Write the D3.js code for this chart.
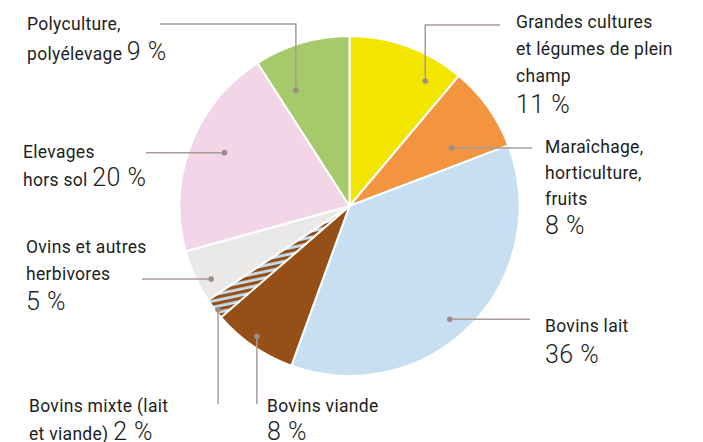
<!DOCTYPE html>
<html>
<head>
<meta charset="utf-8">
<script src="https://cdn.jsdelivr.net/npm/d3@7"></script>
<style>
  body { margin: 0; background: #fff; }
  svg { display: block; }
  .lbl { font-family: Roboto, "Open Sans", sans-serif; fill: #1d1d1b; }
  .num { font-weight: 300; }
</style>
</head>
<body>
<div id="chart"></div>
<script>
// Data
const categories = [
  "Grandes cultures et légumes de plein champ",
  "Maraîchage, horticulture, fruits",
  "Bovins lait",
  "Bovins viande",
  "Bovins mixte (lait et viande)",
  "Ovins et autres herbivores",
  "Elevages hors sol",
  "Polyculture, polyélevage"
];
const values = [11, 8, 36, 8, 2, 5, 20, 9];
const colors = ["#f2e500", "#f39440", "#c8dff2", "#964f16", "url(#hatch)", "#ebe8e8", "#f2d6e8", "#a6ca69"];

// label text lines (last line carries the value)
const labelLines = [
  ["Grandes cultures", "et légumes de plein", "champ", ""],
  ["Maraîchage,", "horticulture,", "fruits", ""],
  ["Bovins lait", ""],
  ["Bovins viande", ""],
  ["Bovins mixte (lait", "et viande) "],
  ["Ovins et autres", "herbivores", ""],
  ["Elevages", "hors sol "],
  ["Polyculture,", "polyélevage "]
];

// Layout of the callouts: where the dot sits in the slice (t = share of the angle, r = share of the radius),
// leader route and text anchor
const callouts = [
  {t: 0.78, r: 0.86, route: [["v", 25], ["h", 500]], x: 516, y: 28, dy: 27, numGap: 31},
  {t: 0.70, r: 0.69, route: [["h", 532]], x: 545, y: 153, dy: 26, numGap: 29},
  {t: 0.53, r: 0.89, route: [["h", 530]], x: 545, y: 332, dy: 31, numGap: 31},
  {t: 0.53, r: 0.94, route: [["v", 404]], x: 267, y: 412, dy: 28, numGap: 28},
  {t: 0.36, r: 0.985, route: [["v", 404]], x: 29, y: 412, dy: 28, numGap: 28},
  {t: 0.32, r: 0.92, route: [["h", 142]], x: 26, y: 253, dy: 27, numGap: 30},
  {t: 0.53, r: 0.80, route: [["h", 146]], x: 23, y: 158, dy: 28, numGap: 28},
  {t: 0.24, r: 0.75, route: [["v", 24], ["h", 160]], x: 27, y: 30, dy: 30, numGap: 30}
];

const width = 703, height = 442;
const cx = 349.5, cy = 206, radius = 170;

const svg = d3.select("#chart").append("svg")
  .attr("width", width)
  .attr("height", height);

// hatch for the mixed slice
const defs = svg.append("defs");
const pat = defs.append("pattern")
  .attr("id", "hatch")
  .attr("patternUnits", "userSpaceOnUse")
  .attr("width", 8).attr("height", 6)
  .attr("patternTransform", "rotate(-12)");
pat.append("rect").attr("width", 8).attr("height", 6).attr("fill", "#c8dff2");
pat.append("rect").attr("width", 8).attr("height", 3.2).attr("fill", "#964f16");

const pie = d3.pie().sort(null).value(d => d);
const arcs = pie(values);
const arc = d3.arc().innerRadius(0).outerRadius(radius);

const g = svg.append("g").attr("transform", `translate(${cx},${cy})`);

g.selectAll("path.slice")
  .data(arcs)
  .join("path")
    .attr("class", "slice")
    .attr("d", arc)
    .attr("fill", (d, i) => colors[i])
    .attr("stroke", "#fff")
    .attr("stroke-width", 2)
    .attr("stroke-linejoin", "round");

// callouts
const lineColor = "#a99b97";
arcs.forEach((a, i) => {
  const c = callouts[i];
  const ang = a.startAngle + (a.endAngle - a.startAngle) * c.t;
  const rr = radius * c.r;
  const px = cx + Math.sin(ang) * rr;
  const py = cy - Math.cos(ang) * rr;

  let path = d3.path();
  path.moveTo(px, py);
  let x = px, y = py;
  c.route.forEach(([dir, v]) => {
    if (dir === "v") y = v; else x = v;
    path.lineTo(x, y);
  });
  svg.append("path")
    .attr("d", path.toString())
    .attr("fill", "none")
    .attr("stroke", lineColor)
    .attr("stroke-width", 1.5);
  svg.append("circle")
    .attr("cx", px).attr("cy", py).attr("r", 2.8)
    .attr("fill", "#9b8d8a");

  const lines = labelLines[i];
  lines.forEach((ln, k) => {
    const isLast = k === lines.length - 1;
    const yy = c.y + (isLast && ln === "" ? (k - 1) * c.dy + c.numGap : k * c.dy);
    const t = svg.append("text")
      .attr("class", "lbl")
      .attr("x", c.x).attr("y", yy)
      .attr("font-size", 17.5)
      .attr("letter-spacing", 0.3);
    t.append("tspan").text(ln);
    if (isLast) {
      t.append("tspan")
        .attr("class", "num")
        .attr("font-size", 25)
        .attr("letter-spacing", 0.5)
        .text(values[i] + " %");
    }
  });
});
</script>
</body>
</html>
